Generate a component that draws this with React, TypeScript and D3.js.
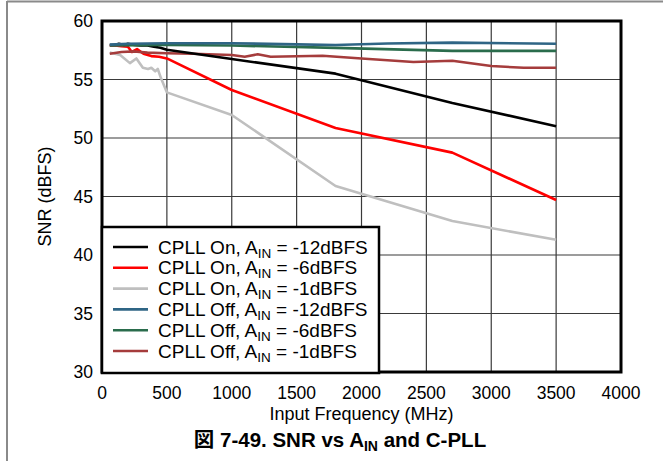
import React from "react";
import * as d3 from "d3";

type Pt = [number, number];

const xTicks = [0, 500, 1000, 1500, 2000, 2500, 3000, 3500, 4000];
const yTicks = [30, 35, 40, 45, 50, 55, 60];

const cpllOn12: Pt[] = [
  [60, 57.95], [100, 57.95], [130, 58.05], [170, 57.95], [200, 58.05], [250, 57.95],
  [300, 57.9], [350, 57.9], [400, 57.8], [450, 57.72], [500, 57.55],
  [1000, 56.75], [1800, 55.5], [2700, 53.0], [3500, 51.0],
];
const cpllOn6: Pt[] = [
  [60, 57.9], [100, 57.9], [150, 57.85], [200, 57.8], [230, 57.35], [270, 57.6],
  [320, 57.2], [380, 57.0], [440, 56.95], [500, 56.8],
  [1000, 54.1], [1800, 50.85], [2700, 48.75], [3500, 44.7],
];
const cpllOn1: Pt[] = [
  [60, 57.3], [140, 57.1], [215, 56.4], [265, 56.8], [315, 56.0], [355, 55.9],
  [380, 56.0], [410, 55.7], [430, 55.9], [455, 55.1], [500, 53.9],
  [1000, 51.97], [1800, 45.9], [2700, 42.9], [3500, 41.3],
];
const cpllOff12: Pt[] = [
  [60, 57.98], [200, 58.05], [500, 58.1], [1000, 58.1], [1500, 58.0], [1800, 57.95],
  [2200, 58.08], [2700, 58.15], [3500, 58.05],
];
const cpllOff6: Pt[] = [
  [60, 57.9], [500, 57.95], [1000, 57.9], [1800, 57.7], [2700, 57.45], [3500, 57.45],
];
const cpllOff1: Pt[] = [
  [60, 57.2], [150, 57.35], [250, 57.4], [350, 57.3], [500, 57.25], [700, 57.2],
  [1000, 57.1], [1100, 56.95], [1200, 57.15], [1300, 56.95], [1700, 57.03],
  [2000, 56.8], [2400, 56.5], [2700, 56.6], [3000, 56.15], [3250, 56.0], [3500, 56.0],
];

const seriesNames = [
  ["CPLL On, A", " = -12dBFS"],
  ["CPLL On, A", " = -6dBFS"],
  ["CPLL On, A", " = -1dBFS"],
  ["CPLL Off, A", " = -12dBFS"],
  ["CPLL Off, A", " = -6dBFS"],
  ["CPLL Off, A", " = -1dBFS"],
];
const seriesData = [cpllOn12, cpllOn6, cpllOn1, cpllOff12, cpllOff6, cpllOff1];
const seriesColors = ["#000000", "#ff0000", "#bfbfbf", "#2f6585", "#2a6c4c", "#a53c3c"];
// draw order: back to front
const drawOrder = [2, 1, 5, 0, 4, 3];

const FONT = "'Liberation Sans', Arial, Helvetica, 'Noto Sans CJK JP', sans-serif";

export default function App() {
  const W = 663, H = 461;
  const left = 102, right = 621, top = 21, bottom = 372;
  const x = d3.scaleLinear().domain([0, 4000]).range([left, right]);
  const y = d3.scaleLinear().domain([30, 60]).range([bottom, top]);
  const line = d3.line<Pt>().x((d) => x(d[0])).y((d) => y(d[1]));

  const legX = 102, legY = 227, legW = 277, legH = 146;
  const rowY0 = 247, rowDy = 20.8;

  return (
    <svg width={W} height={H} style={{ position: "absolute", left: 0, top: 0, background: "#fff" }} fontFamily={FONT}>
      {/* outer frame */}
      <line x1={7} x2={W} y1={1.5} y2={1.5} stroke="#8a8a8a" strokeWidth={2} />
      <line x1={7} x2={7} y1={1} y2={H} stroke="#8a8a8a" strokeWidth={2} />

      {/* grid */}
      {xTicks.slice(1, -1).map((t) => (
        <line key={"gx" + t} x1={x(t)} x2={x(t)} y1={top} y2={bottom} stroke="#3a3a3a" strokeWidth={1.2} />
      ))}
      {yTicks.slice(1, -1).map((t) => (
        <line key={"gy" + t} x1={left} x2={right} y1={y(t)} y2={y(t)} stroke="#3a3a3a" strokeWidth={1.2} />
      ))}

      {/* series */}
      {drawOrder.map((i) => (
        <path key={"s" + i} d={line(seriesData[i]) || ""} fill="none" stroke={seriesColors[i]} strokeWidth={2.6} strokeLinejoin="round" />
      ))}

      {/* plot border */}
      <rect x={left} y={top} width={right - left} height={bottom - top} fill="none" stroke="#000" strokeWidth={3} />

      {/* legend */}
      <rect x={legX} y={legY} width={legW} height={legH} fill="#fff" stroke="#000" strokeWidth={2.5} />
      {seriesNames.map((n, i) => {
        const cy = rowY0 + i * rowDy;
        return (
          <g key={"l" + i}>
            <line x1={113} x2={148} y1={cy} y2={cy} stroke={seriesColors[i]} strokeWidth={2.6} />
            <text x={158} y={cy + 6.5} fontSize={19} fill="#000">
              {n[0]}
              <tspan fontSize={13.5} dy={4}>IN</tspan>
              <tspan dy={-4}>{n[1]}</tspan>
            </text>
          </g>
        );
      })}

      {/* tick labels */}
      {xTicks.map((t) => (
        <text key={"tx" + t} x={x(t)} y={398.5} fontSize={17.5} textAnchor="middle" fill="#000">{t}</text>
      ))}
      {yTicks.map((t) => (
        <text key={"ty" + t} x={93} y={y(t) + 6.3} fontSize={17.5} textAnchor="end" fill="#000">{t}</text>
      ))}

      {/* axis titles */}
      <text x={(left + right) / 2} y={419.5} fontSize={18} textAnchor="middle" fill="#000">Input Frequency (MHz)</text>
      <text transform={`translate(45, ${(top + bottom) / 2}) rotate(-90)`} fontSize={18} textAnchor="middle" dy="0.35em" fill="#000">SNR (dBFS)</text>

      {/* caption */}
      <text x={340} y={447} fontSize={20.5} fontWeight="bold" textAnchor="middle" fill="#000">
        図 7-49. SNR vs A
        <tspan fontSize={14} dy={4}>IN</tspan>
        <tspan dy={-4}> and C-PLL</tspan>
      </text>
    </svg>
  );
}
